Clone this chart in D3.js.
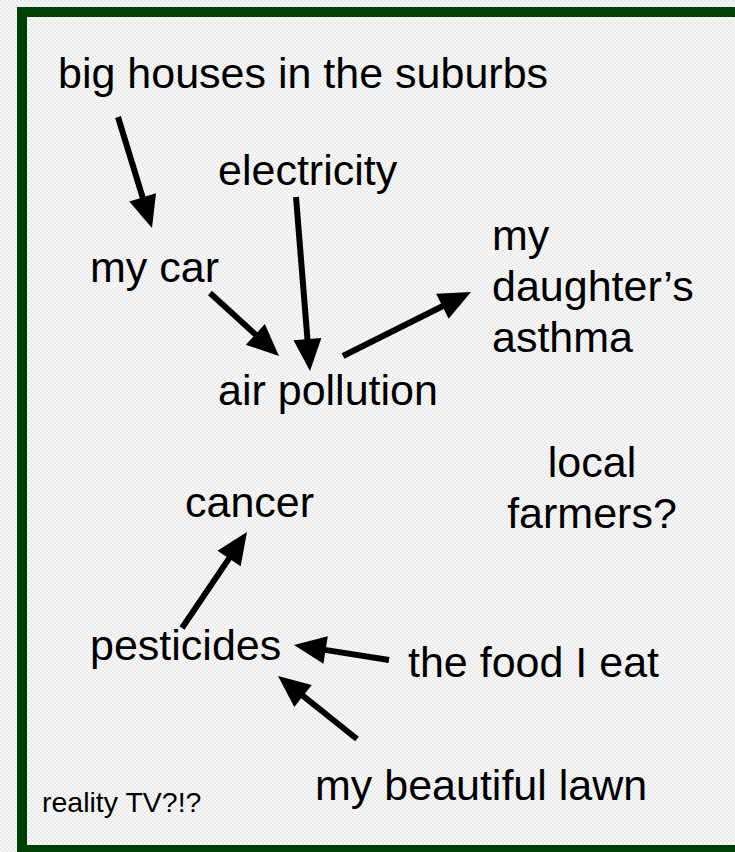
<!DOCTYPE html>
<html>
<head>
<meta charset="utf-8">
<script src="https://cdn.jsdelivr.net/npm/d3@7"></script>
<style>
  html, body { margin: 0; padding: 0; background: #f3f3f3; overflow: hidden; }
  svg { display: block; }
</style>
</head>
<body>
<div id="map"></div>
<script>
// Concept map: labels (lines of text) and their anchor in slide units
const labels = [
  ["big houses in the suburbs"],
  ["electricity"],
  ["my car"],
  ["air pollution"],
  ["my", "daughter\u2019s", "asthma"],
  ["local", "farmers?"],
  ["cancer"],
  ["pesticides"],
  ["the food I eat"],
  ["my beautiful lawn"],
  ["reality TV?!?"]
];
const labelX = [58, 218, 90, 218, 492, 592, 185, 90, 408, 315, 42];
const labelY = [88, 185, 282, 405, 250, 477, 517, 660, 677, 800, 812];
const labelAlign = ["start", "start", "start", "start", "start", "middle", "start", "start", "start", "start", "start"];
const labelSmall = [false, false, false, false, false, false, false, false, false, false, true];

// arrows: start point -> tip
const arrowFrom = [[118, 117], [296, 197], [210, 293], [343, 356], [182, 628], [389, 660], [357, 739]];
const arrowTo   = [[152, 228], [310, 371], [279, 356], [471, 292], [247, 532], [294, 645], [278, 676]];

const W = 735, H = 852;

const x = d3.scaleLinear().domain([0, 735]).range([0, W]);
const y = d3.scaleLinear().domain([0, 852]).range([0, H]);

const svg = d3.select("#map").append("svg")
    .attr("width", W)
    .attr("height", H);

// fond texturé léger
const defs = svg.append("defs");
const pat = defs.append("pattern")
    .attr("id", "bg")
    .attr("width", 4)
    .attr("height", 4)
    .attr("patternUnits", "userSpaceOnUse");
pat.append("rect").attr("width", 4).attr("height", 4).attr("fill", "#f9f9f9");
pat.append("rect").attr("width", 2).attr("height", 2).attr("fill", "#e9e9e9");
pat.append("rect").attr("x", 2).attr("y", 2).attr("width", 2).attr("height", 2).attr("fill", "#e9e9e9");

svg.append("rect")
    .attr("width", W)
    .attr("height", H)
    .attr("fill", "url(#bg)");

// cadre vert foncé (le bord droit sort de l'image)
svg.append("rect")
    .attr("x", 22)
    .attr("y", 12)
    .attr("width", 800)
    .attr("height", 838)
    .attr("fill", "none")
    .attr("stroke", "#003f06")
    .attr("stroke-width", 10);

// textes
const text = svg.append("g")
    .attr("font-family", "Arial, 'Liberation Sans', sans-serif")
    .attr("fill", "#000")
    .selectAll("text")
    .data(labels)
    .enter().append("text")
    .attr("x", (d, i) => x(labelX[i]))
    .attr("y", (d, i) => y(labelY[i]))
    .attr("text-anchor", (d, i) => labelAlign[i])
    .attr("font-size", (d, i) => labelSmall[i] ? "28.5px" : "43px");

text.selectAll("tspan")
    .data(d => d)
    .enter().append("tspan")
    .attr("x", function() { return d3.select(this.parentNode).attr("x"); })
    .attr("dy", (d, i) => i === 0 ? 0 : 51)
    .text(d => d);

// flèches
const headLen = 32, headHalf = 14;
const arrows = svg.append("g")
    .selectAll("g")
    .data(arrowFrom.map((f, i) => ({ from: f, to: arrowTo[i] })))
    .enter().append("g");

arrows.append("line")
    .attr("x1", d => x(d.from[0]))
    .attr("y1", d => y(d.from[1]))
    .attr("x2", d => {
        const dx = x(d.to[0]) - x(d.from[0]), dy = y(d.to[1]) - y(d.from[1]);
        const L = Math.hypot(dx, dy);
        return x(d.to[0]) - dx / L * (headLen - 4);
    })
    .attr("y2", d => {
        const dx = x(d.to[0]) - x(d.from[0]), dy = y(d.to[1]) - y(d.from[1]);
        const L = Math.hypot(dx, dy);
        return y(d.to[1]) - dy / L * (headLen - 4);
    })
    .attr("stroke", "#000")
    .attr("stroke-width", 6);

arrows.append("path")
    .attr("d", d => {
        const tx = x(d.to[0]), ty = y(d.to[1]);
        const dx = tx - x(d.from[0]), dy = ty - y(d.from[1]);
        const L = Math.hypot(dx, dy);
        const ux = dx / L, uy = dy / L;
        const bx = tx - ux * headLen, by = ty - uy * headLen;
        return `M${tx},${ty}L${bx - uy * headHalf},${by + ux * headHalf}L${bx + uy * headHalf},${by - ux * headHalf}Z`;
    })
    .attr("fill", "#000");
</script>
</body>
</html>
